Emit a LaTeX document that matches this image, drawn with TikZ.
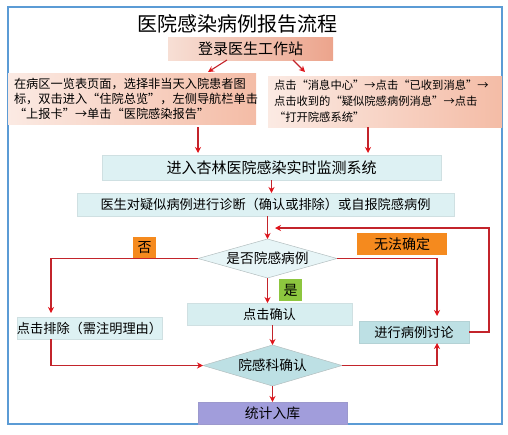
\documentclass[tikz,border=0pt]{standalone}
\usepackage{fontspec}
\newfontfamily\cjk{Noto Sans CJK SC}
\usepackage{xcolor}
\usetikzlibrary{arrows.meta,shapes.geometric,calc}
\definecolor{flowRed}{HTML}{E0141B}
\definecolor{lineRed}{HTML}{C3242B}
\definecolor{frameBlue}{HTML}{5B9BD5}
\definecolor{peachL}{HTML}{FBEAE3}
\definecolor{peachR}{HTML}{F4BCA6}
\definecolor{loginL}{HTML}{F7DFD5}
\definecolor{loginR}{HTML}{ECA48C}
\definecolor{cyanBox}{HTML}{DDF1F3}
\definecolor{tealBox}{HTML}{BDE0E4}
\definecolor{orangeTag}{HTML}{F58A1E}
\definecolor{greenTag}{HTML}{8DC63F}
\definecolor{lilacBox}{HTML}{A19DDB}

\begin{document}
\begin{tikzpicture}[x=1pt, y=-1pt,
  every node/.style={inner sep=0pt, outer sep=0pt},
  peachbox/.style={rectangle, left color=peachL, right color=peachR, font=\cjk\fontsize{12.2}{15}\selectfont, align=left},
  cyanbox/.style={rectangle, fill=cyanBox, draw=cyanBox!85!gray, line width=0.4pt, font=\cjk\fontsize{13.2}{13.2}\selectfont},
  choice/.style={diamond, aspect=3.6, draw=gray!45!cyanBox, line width=0.5pt, font=\cjk\fontsize{13.7}{13.7}\selectfont},
  tag/.style={rectangle, minimum height=22, font=\cjk\fontsize{14}{14}\selectfont},
  arr/.style={draw=lineRed, line width=1.1pt, -{Stealth[length=6pt, width=6pt, color=flowRed]}}]
\useasboundingbox (0,0) rectangle (508,434);
% ---------- frame and title ----------
\draw[frameBlue, line width=1.2pt] (8,7) rectangle (502,424);
\node[font=\cjk\fontsize{20}{20}\selectfont] (title) at (237,24) {医院感染病例报告流程};
% ---------- top: login and the two ways in ----------
\node[rectangle, left color=loginL, right color=loginR, minimum width=165, minimum height=23,
      font=\cjk\fontsize{15}{15}\selectfont] (login) at (250.5,48.5) {登录医生工作站};
\node[peachbox, minimum width=248, minimum height=51, text width=236] (leftway) at (132,98.5)
  {在病区一览表页面，选择非当天入院患者图\\标，双击进入“住院总览”，左侧导航栏单击\\“上报卡”→单击“医院感染报告”};
\node[peachbox, minimum width=234, minimum height=51, text width=222, font=\cjk\fontsize{11.3}{16}\selectfont] (rightway) at (385,101.5)
  {点击“消息中心”→点击“已收到消息”→\\点击收到的“疑似院感病例消息”→点击\\“打开院感系统”};
% ---------- system and diagnosis ----------
\node[cyanbox, minimum width=339, minimum height=25, font=\cjk\fontsize{15}{15}\selectfont] (monitor) at (271.5,167.5) {进入杏林医院感染实时监测系统};
\node[cyanbox, minimum width=377, minimum height=23] (diagnose) at (265.5,204.5) {医生对疑似病例进行诊断（确认或排除）或自报院感病例};
% ---------- first decision ----------
\node[choice, fill=cyanBox!70!white, minimum width=139, minimum height=39] (judge) at (267.5,258.5) {是否院感病例};
\node[tag, fill=orangeTag, minimum width=23] (notag) at (144.5,248) {否};
\node[tag, fill=orangeTag, minimum width=90] (unsure) at (402,244) {无法确定};
\node[tag, fill=greenTag, minimum width=23] (yestag) at (290.5,290) {是};
% ---------- second row ----------
\node[cyanbox, minimum width=145, minimum height=22] (exclude) at (89.5,328) {点击排除（需注明理由）};
\node[cyanbox, fill=cyanBox!80!tealBox, minimum width=165, minimum height=22] (confirm) at (269.5,314) {点击确认};
\node[cyanbox, fill=tealBox, draw=tealBox!85!gray, minimum width=110, minimum height=22] (discuss) at (414,332) {进行病例讨论};
% ---------- department check and storage ----------
\node[choice, fill=tealBox, minimum width=139, minimum height=41] (dept) at (272.5,365.5) {院感科确认};
\node[rectangle, fill=lilacBox, draw=lilacBox!85!gray, minimum width=149, minimum height=22,
      font=\cjk\fontsize{13.8}{13.8}\selectfont] (store) at (272.5,413) {统计入库};
\coordinate (backin) at (275,228);
% ---------- connectors ----------
\draw[arr] ([xshift=-23.5pt]login.south) -- ([xshift=76pt,yshift=1pt]leftway.north);
\draw[arr] ([xshift=42.5pt]login.south) -- ([xshift=-80pt,yshift=4pt]rightway.north);
\draw[arr] ([xshift=66pt,yshift=-3pt]leftway.south) -- ++(0,26);
\draw[arr] ([xshift=-17pt]rightway.south) -- ++(0,26);
\draw[arr] (monitor.south) -- (monitor.south |- diagnose.north);
\draw[arr] (judge.north |- diagnose.south) -- (judge.north);
\draw[arr] (judge.west) -| ([xshift=-38.5pt,yshift=4pt]exclude.north);
\draw[arr] (judge.east) -| ([xshift=23pt,yshift=5pt]discuss.north);
\draw[arr] (judge.south) -- (judge.south |- confirm.north);
\draw[arr] (discuss.east) -- ++(20,0) |- (backin);
\draw[arr] (confirm.south -| dept.north) -- (dept.north);
\draw[arr] ([xshift=-38.5pt]exclude.south) |- (dept.west);
\draw[arr] (dept.east) -| ([xshift=23pt]discuss.south);
\draw[arr] (dept.south) -- (store.north);
\end{tikzpicture}
\end{document}
